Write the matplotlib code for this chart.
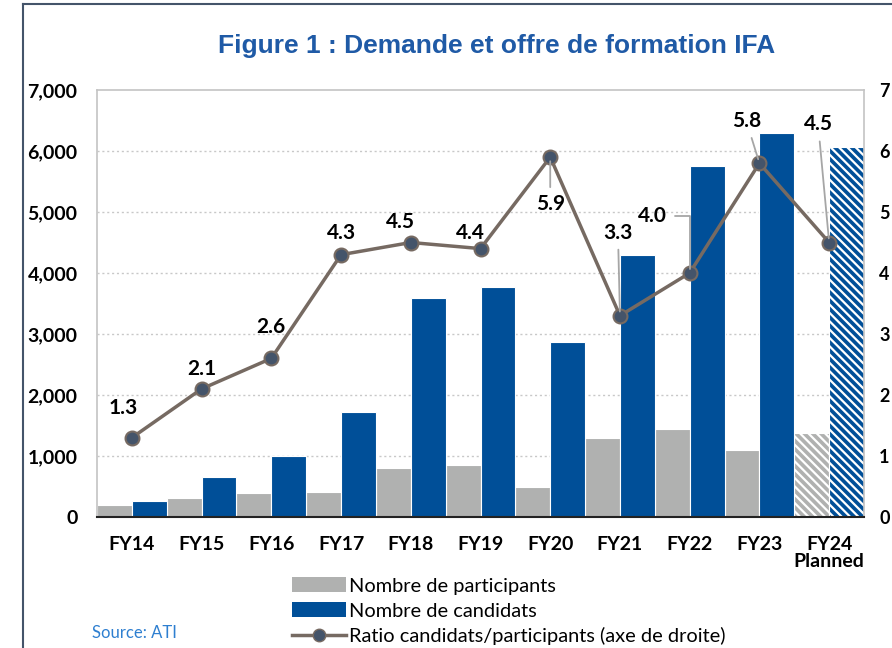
import matplotlib.pyplot as plt
import numpy as np
from matplotlib.lines import Line2D
from matplotlib.patches import Patch

# Data
years = ['FY14', 'FY15', 'FY16', 'FY17', 'FY18', 'FY19', 'FY20', 'FY21', 'FY22', 'FY23', 'FY24\nPlanned']
participants = [200, 310, 390, 410, 800, 860, 490, 1300, 1450, 1100, 1370]
candidats = [255, 660, 1000, 1720, 3590, 3770, 2870, 4300, 5750, 6300, 6060]
ratio = [1.3, 2.1, 2.6, 4.3, 4.5, 4.4, 5.9, 3.3, 4.0, 5.8, 4.5]
ratio_labels = ['1.3', '2.1', '2.6', '4.3', '4.5', '4.4', '5.9', '3.3', '4.0', '5.8', '4.5']

GRAY = '#B0B1B0'
BLUE = '#004F98'
LINE = '#766A62'
MARK = '#44546A'

plt.rcParams['font.family'] = ['Lato', 'DejaVu Sans']
plt.rcParams['hatch.linewidth'] = 1.6

fig = plt.figure(figsize=(8.92, 6.48), dpi=100)
ax = fig.add_axes([97/892, 1 - 517/648, (864-97)/892, (517-90)/648])

x = np.arange(len(years))
w = 0.5
bars_p = ax.bar(x - w/2, participants, w, color=GRAY, edgecolor='white', linewidth=0.8, zorder=2)
bars_c = ax.bar(x + w/2, candidats, w, color=BLUE, edgecolor='white', linewidth=0.8, zorder=2)

# planned year is hatched
bars_p[-1].set_hatch('\\\\\\\\')
bars_c[-1].set_hatch('\\\\\\\\')

ax.set_xlim(-0.5, len(years) - 0.5)
ax.set_ylim(0, 7000)
ax.set_yticks(np.arange(0, 7001, 1000))
ax.set_yticklabels([f'{v:,}' for v in range(0, 7001, 1000)])
ax.set_xticks(x)
ax.set_xticklabels(years, linespacing=1.0)
ax.tick_params(axis='y', length=0, pad=14, labelsize=14)
ax.tick_params(axis='x', length=0, pad=14, labelsize=14)
for lab in ax.get_xticklabels() + ax.get_yticklabels():
    lab.set_fontweight('bold')

for yv in range(1000, 7000, 1000):
    ax.axhline(yv, color='#C8C8C8', linestyle=(0, (1.5, 2)), linewidth=1, zorder=0)

for side in ['left', 'top', 'right']:
    ax.spines[side].set_color('#C4C4C4')
    ax.spines[side].set_linewidth(1.2)
ax.spines['bottom'].set_color('#222222')
ax.spines['bottom'].set_linewidth(1.5)
ax.spines['bottom'].set_zorder(5)

# Right axis (ratio)
ax2 = ax.twinx()
ax2.set_ylim(0, 7)
ax2.set_yticks(range(0, 8))
ax2.set_yticklabels([str(v) for v in range(0, 8)])
ax2.tick_params(axis='y', length=0, pad=11, labelsize=13)
for lab in ax2.get_yticklabels():
    lab.set_fontweight('bold')
for s in ax2.spines.values():
    s.set_visible(False)

ax2.plot(x, ratio, color=LINE, linewidth=2.5, marker='o', markersize=10,
         markerfacecolor=MARK, markeredgecolor=LINE, markeredgewidth=1.5, zorder=4)

# data labels: offsets in pixels (dx, dy up) and leader line style
offsets = [(-9, 30), (0, 20), (0, 31), (0, 22), (-10, 20), (-10, 16), (0, -47),
           (-2, 83), (-37, 57), (-13, 42), (-11, 118)]
leaders = [None, None, None, None, None, None, 'line', 'line', 'elbow', 'line', 'line']
for i, (v, txt) in enumerate(zip(ratio, ratio_labels)):
    dx, dy = offsets[i]
    kw = dict(xy=(x[i], v), xytext=(dx, dy), textcoords='offset pixels',
              ha='center', va='center', fontsize=15, fontweight='bold', zorder=6)
    if leaders[i] == 'line':
        kw['arrowprops'] = dict(arrowstyle='-', color='#A6A6A6', lw=1.3, shrinkA=3, shrinkB=3)
    elif leaders[i] == 'elbow':
        kw['arrowprops'] = dict(arrowstyle='-', color='#A6A6A6', lw=1.3, shrinkA=4, shrinkB=3,
                                connectionstyle='angle,angleA=0,angleB=90,rad=0')
    ax2.annotate(txt, **kw)

# Title
fig.text(497/892, 1 - 46/648, 'Figure 1 : Demande et offre de formation IFA',
         ha='center', va='center', fontsize=19, fontweight='bold', color='#1F5AA6',
         family='Liberation Sans')

# Legend
handles = [Patch(facecolor=GRAY, edgecolor='none'),
           Patch(facecolor=BLUE, edgecolor='none'),
           Line2D([0], [0], color=LINE, linewidth=2.5, marker='o', markersize=9,
                  markerfacecolor=MARK, markeredgecolor=LINE)]
labels = ['Nombre de participants', 'Nombre de candidats',
          'Ratio candidats/participants (axe de droite)']
fig.legend(handles, labels, loc='upper left', bbox_to_anchor=(282/892, 1 - 567/648),
           frameon=False, fontsize=14.4, handlelength=2.7, handleheight=0.8,
           handletextpad=0.15, labelspacing=0.37, borderpad=0)

fig.text(92/892, 1 - 633/648, 'Source: ATI', ha='left', va='center',
         fontsize=12, color='#2E7FD0')

# outer frame
fig.add_artist(Line2D([23/892, 23/892], [0, 1 - 4/648], transform=fig.transFigure,
                      color='#44546A', linewidth=1.5))
fig.add_artist(Line2D([23/892, 1], [1 - 4/648, 1 - 4/648], transform=fig.transFigure,
                      color='#44546A', linewidth=1.5))

fig.savefig('out.png', dpi=100)
